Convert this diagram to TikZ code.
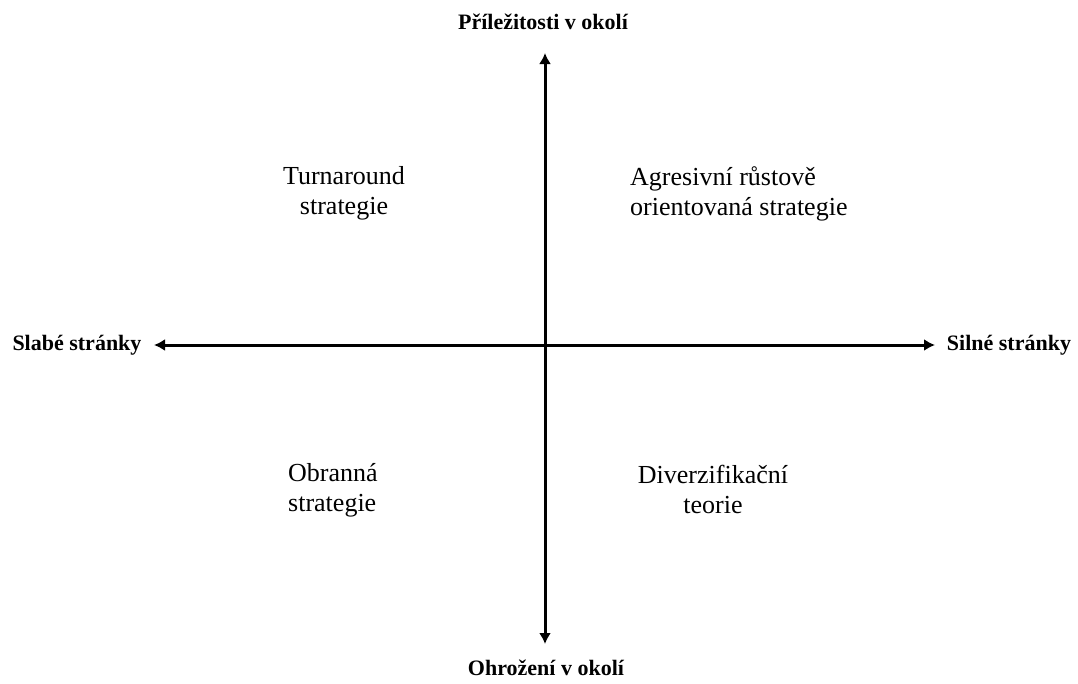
\documentclass[tikz,border=0pt]{standalone}
\usepackage{fontspec}
\setmainfont{Liberation Serif}
\usetikzlibrary{arrows.meta}

\begin{document}
\begin{tikzpicture}[x=1pt,y=-1pt,
    axis/.style={line width=3pt,{Latex[length=11pt,width=12pt]}-{Latex[length=11pt,width=12pt]}},
    axislabel/.style={font=\fontsize{22}{26}\selectfont\bfseries,inner sep=0pt},
    quadrant/.style={font=\fontsize{26}{30}\selectfont,inner sep=0pt}]
    \useasboundingbox (0,0) rectangle (1078,683);

    \coordinate (W) at (154, 345);
    \coordinate (E) at (935, 345);
    \coordinate (N) at (545, 53);
    \coordinate (S) at (545, 644);

    \node[axislabel] (weak) at (77, 345)  {Slabé stránky};
    \node[axislabel] (strong) at (1009, 345)  {Silné stránky};
    \node[axislabel] (opp) at (543, 22)  {Příležitosti v okolí};
    \node[axislabel] (threat) at (546, 668)  {Ohrožení v okolí};

    \node[quadrant,align=center] (turn) at (344, 193)  {Turnaround\\strategie};
    \node[quadrant,align=left,anchor=west] (aggr) at (630, 194)  {Agresivní růstově\\orientovaná strategie};
    \node[quadrant,align=left,anchor=west] (def) at (288, 490)  {Obranná\\strategie};
    \node[quadrant,align=center] (div) at (713, 489)  {Diverzifikační\\teorie};

    \draw[axis] (W) -- (E);
    \draw[axis] (S) -- (N);

\end{tikzpicture}
\end{document}
